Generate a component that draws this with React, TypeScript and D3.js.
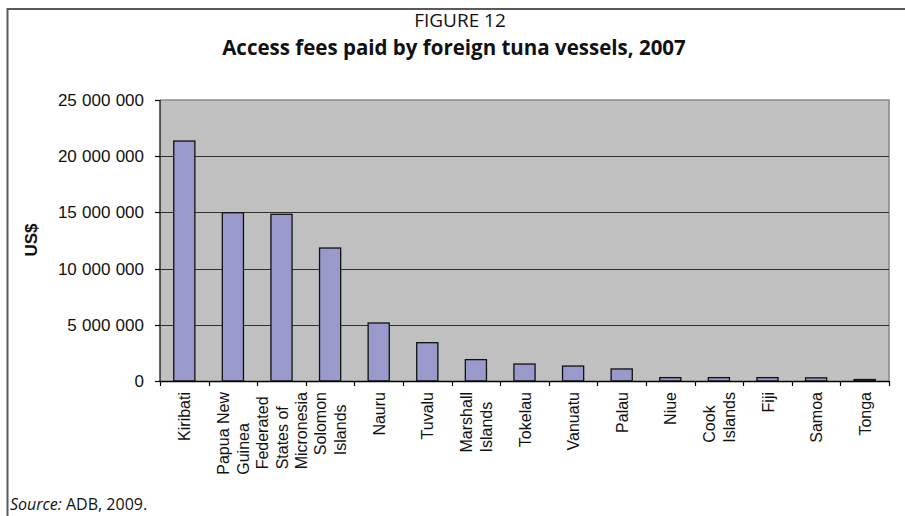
import { useEffect, useRef } from 'react';
import * as d3 from 'd3';

const COUNTRIES = [
  'Kiribati', 'Papua New Guinea', 'Federated States of Micronesia', 'Solomon Islands',
  'Nauru', 'Tuvalu', 'Marshall Islands', 'Tokelau', 'Vanuatu', 'Palau',
  'Niue', 'Cook Islands', 'Fiji', 'Samoa', 'Tonga',
];

const LABEL_LINES = [
  ['Kiribati'], ['Papua New', 'Guinea'], ['Federated', 'States of', 'Micronesia'], ['Solomon', 'Islands'],
  ['Nauru'], ['Tuvalu'], ['Marshall', 'Islands'], ['Tokelau'], ['Vanuatu'], ['Palau'],
  ['Niue'], ['Cook', 'Islands'], ['Fiji'], ['Samoa'], ['Tonga'],
];

// access fees, US$
const FEES = [
  21350000, 14970000, 14830000, 11830000, 5160000, 3410000, 1900000, 1510000,
  1330000, 1070000, 300000, 300000, 300000, 280000, 130000,
];

const Y_TICKS = [0, 5000000, 10000000, 15000000, 20000000, 25000000];

const W = 905, H = 516;
const M = { left: 160, right: 16, top: 100, bottom: 135 };

const fmt = (v: number) => d3.format(',')(v).replace(/,/g, ' ');

export default function App() {
  const svgRef = useRef<SVGSVGElement>(null);

  useEffect(() => {
    document.body.style.margin = '0';
    document.body.style.overflow = 'hidden';
    if (!svgRef.current) return;
    const svg = d3.select(svgRef.current);
    svg.selectAll('*').remove();

    const x0 = M.left, x1 = W - M.right, y0 = M.top, y1 = H - M.bottom;
    const x = d3.scaleBand<string>().domain(COUNTRIES).range([x0, x1]).paddingInner(0).paddingOuter(0);
    const y = d3.scaleLinear().domain([0, 25000000]).range([y1, y0]);
    const bw = x.bandwidth() / 2.3;
    const font = '"Liberation Sans", Arial, sans-serif';
    const titleFont = '"Open Sans", "Noto Sans", sans-serif';

    svg.append('rect').attr('width', W).attr('height', H).attr('fill', '#fff');

    // outer frame
    svg.append('path').attr('d', `M7.5,${H} V9 H${W}`)
      .attr('fill', 'none').attr('stroke', '#5a5a5a').attr('stroke-width', 2);

    // titles
    svg.append('text').attr('x', 460).attr('y', 27).attr('text-anchor', 'middle')
      .attr('font-family', titleFont).attr('font-size', 19).attr('fill', '#111').text('FIGURE 12');
    svg.append('text').attr('x', 454).attr('y', 55).attr('text-anchor', 'middle')
      .attr('font-family', titleFont).attr('font-size', 20.5).attr('font-weight', 700).attr('fill', '#111')
      .text('Access fees paid by foreign tuna vessels, 2007');

    // plot area
    svg.append('rect').attr('x', x0).attr('y', y0).attr('width', x1 - x0).attr('height', y1 - y0)
      .attr('fill', '#c0c0c0');
    svg.append('path').attr('d', `M${x0},${y0} H${x1} V${y1}`)
      .attr('fill', 'none').attr('stroke', '#8a8a8a').attr('stroke-width', 1.6);

    // gridlines
    svg.append('g').selectAll('line')
      .data(Y_TICKS.filter(t => t > 0 && t < 25000000))
      .enter().append('line')
      .attr('x1', x0).attr('x2', x1)
      .attr('y1', d => Math.round(y(d)) + 0.5).attr('y2', d => Math.round(y(d)) + 0.5)
      .attr('stroke', '#303030').attr('stroke-width', 1.2);

    // bars
    svg.append('g').selectAll('rect')
      .data(FEES)
      .enter().append('rect')
      .attr('x', (_, i) => (x(COUNTRIES[i]) ?? 0) + x.bandwidth() / 2 - bw / 2)
      .attr('y', d => y(d))
      .attr('width', bw)
      .attr('height', d => y1 - y(d))
      .attr('fill', '#9999cc')
      .attr('stroke', '#111')
      .attr('stroke-width', 1.3);

    // y axis
    const yAxis = svg.append('g');
    yAxis.append('line').attr('x1', x0).attr('x2', x0).attr('y1', y0).attr('y2', y1)
      .attr('stroke', '#000').attr('stroke-width', 1.2);
    yAxis.selectAll('line.tick').data(Y_TICKS).enter().append('line').attr('class', 'tick')
      .attr('x1', x0 - 5).attr('x2', x0)
      .attr('y1', d => Math.round(y(d)) + 0.5).attr('y2', d => Math.round(y(d)) + 0.5)
      .attr('stroke', '#000').attr('stroke-width', 1.2);
    yAxis.selectAll('text').data(Y_TICKS).enter().append('text')
      .attr('x', 144).attr('y', d => y(d)).attr('dy', '0.35em')
      .attr('text-anchor', 'end').attr('font-family', font).attr('font-size', 17)
      .attr('word-spacing', 0.5).attr('fill', '#111')
      .text(d => fmt(d));

    svg.append('text').attr('transform', 'translate(37,240) rotate(-90)')
      .attr('text-anchor', 'middle').attr('font-family', font).attr('font-size', 17)
      .attr('font-weight', 700).attr('fill', '#111').text('US$');

    // x axis
    const xAxis = svg.append('g');
    xAxis.append('line').attr('x1', x0).attr('x2', x1).attr('y1', y1 + 0.5).attr('y2', y1 + 0.5)
      .attr('stroke', '#000').attr('stroke-width', 1.3);
    xAxis.selectAll('line.tick').data([...COUNTRIES, null]).enter().append('line').attr('class', 'tick')
      .attr('x1', d => Math.round(d ? (x(d) ?? 0) : x1) + 0.5)
      .attr('x2', d => Math.round(d ? (x(d) ?? 0) : x1) + 0.5)
      .attr('y1', y1).attr('y2', y1 + 5)
      .attr('stroke', '#000').attr('stroke-width', 1.2);

    const labelTop = 392;
    const lineGap = 19.5;
    COUNTRIES.forEach((c, i) => {
      const lines = LABEL_LINES[i];
      const cx = (x(c) ?? 0) + x.bandwidth() / 2;
      const g = xAxis.append('g');
      const texts = lines.map(ln => g.append('text')
        .attr('font-family', font).attr('font-size', 16).attr('fill', '#111')
        .attr('text-anchor', 'start').text(ln));
      const maxW = d3.max(texts, t => (t.node() as SVGTextElement).getComputedTextLength()) ?? 0;
      const base = labelTop + maxW;
      texts.forEach((t, j) => {
        const bx = cx + 6 + (j - (lines.length - 1) / 2) * lineGap;
        t.attr('transform', `translate(${bx},${base}) rotate(-90)`);
      });
    });

    // source
    const src = svg.append('text').attr('x', 10).attr('y', 510)
      .attr('font-family', titleFont).attr('font-size', 16).attr('fill', '#111');
    src.append('tspan').attr('font-style', 'italic').text('Source:');
    src.append('tspan').text(' ADB, 2009.');
  }, []);

  return (
    <svg ref={svgRef} width={W} height={H} style={{ display: 'block' }} />
  );
}
